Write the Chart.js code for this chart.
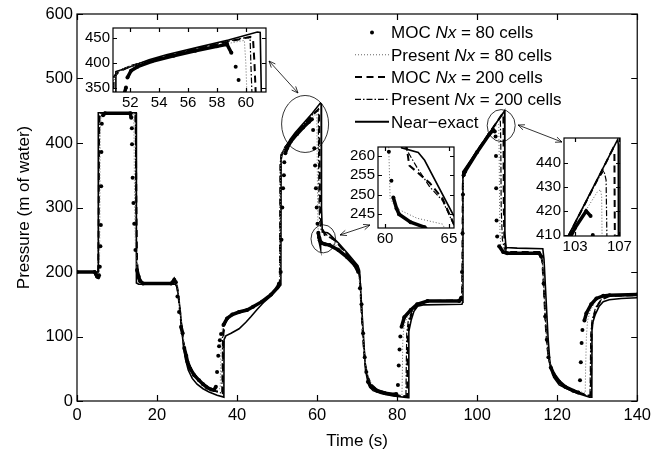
<!DOCTYPE html>
<html>
<head>
<meta charset="utf-8">
<script src="https://cdn.jsdelivr.net/npm/chart.js@4.4.1/dist/chart.umd.min.js"></script>
<style>
    body { margin: 0; background: #fff; }
    #wrap { position: relative; width: 656px; height: 459px; }
    #wrap canvas { position: absolute; }
</style>
</head>
<body>
<div id="wrap">
    <canvas id="grafico" width="656" height="459" style="left:0;top:0"></canvas>
    <canvas id="zoom1"></canvas>
    <canvas id="zoom2"></canvas>
    <canvas id="zoom3"></canvas>
</div>
<script>
// time (s) / pressure (m of water) pairs for each run
const moc80 = [[0,200],[4.4,200],[4.7,197],[5.0,193],[5.3,192],[5.5,195],[5.7,208],[5.85,240],[5.96,273],[6.05,333],[6.1,386],[6.2,430],[6.5,443],[7,446],
    [13.3,446],[13.55,439],[13.7,423],[13.75,398],[13.9,346],[14.1,307],[14.3,275],[14.6,234],[15.0,203],[15.4,193],[15.8,186],[16.5,182],
    [23.5,182],[24.0,185],[24.3,188],[24.7,184],[25.1,162],[25.5,138],[26.0,115],[26.4,105],[26.8,82],[27.3,70],[27.6,61],[28.3,50],[29.3,40],
    [30.5,32],[31.5,26],[32.5,21],[33.5,18],[34.2,17],[34.7,22],[35.0,45],[35.3,70],[35.5,85],[35.7,94],[36.0,104],[36.6,118],[37.5,128],
    [38.8,134],[40.5,138],[42.5,141],[44,146],[46.2,154],[48.5,165],[50.1,176],[50.5,182],[50.9,200],[51.1,250],[51.3,300],[51.5,330],
    [51.7,350],[51.8,370],[52.05,384],[52.5,392],[53.5,403],[55,414],[56.5,424],[58,433],[58.7,437],[59.0,420],[59.3,392],[59.5,365],
    [59.7,330],[59.9,300],[60.1,275],[60.3,261],[60.5,253.6],[60.65,249.3],[60.9,246.5],[61.1,245],[62,243],[63.1,241.7],[65.3,234],
    [67.5,223],[69.4,211],[70.3,200],[70.7,175],[71.1,150],[71.5,105],[71.9,68],[72.3,45],[72.7,30],[73.5,22],[75,16],[77,12],[79.3,10],
    [79.8,11],[80.2,25],[80.4,55],[80.6,80],[80.8,100],[81.1,115],[81.8,130],[83.4,141],[85,150],[87.6,155],[95.5,155],[96.0,160],
    [96.2,200],[96.35,260],[96.45,320],[96.6,350],[97,356],[100,386],[103,413],[104,420],[104.4,418],[104.6,410],[104.7,380],
    [104.75,330],[104.85,280],[105.0,255],[105.5,240],[106.5,231],[107.5,229],[115.5,229],[116.0,224],[116.6,182],[117.0,131],[117.4,95],
    [117.8,68],[118.4,52],[119.1,42],[120.5,30],[122,22],[124,16],[125.3,13],[125.7,32],[125.9,60],[126.1,90],[126.3,110],[126.8,125],
    [127.3,136],[128.5,150],[129.8,159],[131.5,163],[133.1,164],[140,165]];

const present80 = [[0,200],[4.6,200],[5.0,196],[5.4,195],[5.6,200],[5.7,260],[5.75,350],[5.8,420],[6.0,440],[6.5,446],[14.0,446],[14.2,440],
    [14.3,380],[14.4,300],[14.6,240],[15.0,200],[15.5,188],[16.5,182],[24.0,183],[24.5,186],[25.0,182],[25.4,163],[25.8,140],[26.3,112],
    [26.8,88],[27.4,70],[28.0,57],[29,45],[30.5,33],[32,24],[33.5,18],[34.8,15],[35.8,20],[35.9,60],[36.0,95],[36.3,112],[36.8,124],
    [37.5,129],[38.8,134],[40.5,138],[42.5,141],[44,146],[46.2,154],[48.5,165],[50.4,178],[50.7,190],[50.8,300],[50.9,370],[51.2,384],
    [52,393],[53.5,404],[55,415],[56.5,425],[58,434],[59.5,443],[59.9,445],[60.0,400],[60.1,320],[60.2,280],[60.3,261],[60.4,249],
    [60.9,246.5],[62.5,244],[64.5,242.5],[66,233],[68,220],[70.2,205],[70.8,170],[71.3,120],[71.8,75],[72.3,48],[73,32],[74.5,20],
    [76.5,14],[79,11],[81.2,9],[81.3,40],[81.4,90],[81.6,110],[82,122],[83.4,141],[85,150],[87.6,155],[96.2,156],[96.4,200],[96.5,300],
    [96.6,350],[97,357],[100,386],[103,413],[105,428],[105.3,429],[105.4,426],[105.5,380],[105.6,300],[105.7,260],[105.9,242],[106.5,234],
    [107.5,230],[115.8,230],[116.3,215],[116.8,160],[117.2,115],[117.6,80],[118.2,58],[119,44],[120.5,31],[122,23],[124,17],[126.5,13],
    [127.0,12],[127.1,50],[127.3,100],[127.6,125],[128.3,140],[129.8,158],[131.5,163],[133.1,164],[140,165]];

const moc200 = [[0,200],[5.1,200],[5.3,198],[5.4,250],[5.5,400],[5.6,440],[5.9,446],[14.6,446],[14.7,420],[14.85,300],[15.0,220],[15.3,190],
    [15.8,182],[24.3,183],[24.6,184],[25.0,178],[25.4,160],[25.8,135],[26.2,112],[26.7,88],[27.3,70],[27.9,57],[28.8,46],[30,36],[31.5,27],
    [33,20],[34.8,15],[36.4,12],[36.5,60],[36.6,105],[37,120],[37.8,130],[38.8,134],[40.5,138],[42.5,141],[44,146],[46.2,154],[48.5,165],
    [50.4,177],[50.7,185],[50.8,300],[50.85,370],[51.2,382],[52,393],[53.5,405],[55,417],[56.5,427],[58,437],[59.5,447],[60.3,452],
    [60.5,448],[60.6,400],[60.7,330],[60.8,290],[61.2,268],[61.7,262],[61.9,257.5],[63.5,253],[64.5,249],[66,238],[68,224],[70.2,208],
    [70.7,190],[71.1,140],[71.5,95],[72,58],[72.6,38],[73.5,26],[75,17],[77.5,12],[80,9],[82.5,7],[82.6,60],[82.7,105],[83.1,125],
    [83.8,138],[85,148],[87.6,155],[96.2,156],[96.3,200],[96.4,330],[96.5,355],[97,358],[100,388],[103,415],[105,433],[106.4,446],
    [106.55,444],[106.6,400],[106.65,300],[106.8,250],[107.2,236],[108,231],[115.8,231],[116.3,215],[116.7,170],[117.1,120],[117.5,85],[118,62],
    [118.8,46],[120.5,30],[122,22],[124.5,15],[127,10],[128.4,8],[128.5,60],[128.6,105],[128.9,125],[129.8,145],[131,157],[133.1,163],[140,164]];

const present200 = [[0,200],[5.1,200],[5.3,199],[5.4,300],[5.5,420],[5.7,444],[6,446],[14.5,446],[14.6,430],[14.75,300],[14.9,220],
    [15.2,192],[15.8,182],[24.3,182],[24.6,184],[25.0,179],[25.4,161],[25.8,137],[26.2,113],[26.7,89],[27.3,71],[27.9,58],[28.8,47],
    [30,36],[31.5,27],[33,20],[34.8,15],[36.2,12],[36.3,60],[36.4,105],[36.8,120],[37.6,130],[38.8,134],[40.5,138],[42.5,141],[44,146],
    [46.2,154],[48.5,165],[50.4,177],[50.65,185],[50.75,300],[50.8,370],[51.1,382],[52,394],[53.5,406],[55,418],[56.5,428],[58,438],
    [59.5,448],[60.1,451],[60.3,448],[60.35,400],[60.45,320],[60.6,280],[61,266],[61.6,262],[62.5,257],[63.5,252],[64.5,248.5],[66,238],
    [68,224],[70.2,207],[70.7,190],[71.1,140],[71.5,95],[72,58],[72.6,38],[73.5,26],[75,17],[77.5,12],[80,9],[82.2,7],[82.3,60],
    [82.4,105],[82.8,125],[83.6,138],[85,148],[87.6,155],[96.2,156],[96.3,200],[96.4,330],[96.5,355],[97,358],[100,388],[103,415],
    [105,433],[105.6,437],[105.8,433],[105.9,400],[106.0,300],[106.3,250],[106.8,236],[107.6,230],[115.8,230],[116.3,215],[116.7,170],
    [117.1,120],[117.5,85],[118,62],[118.8,46],[120.5,30],[122,22],[124.5,15],[127,10],[128.2,8],[128.3,60],[128.4,105],[128.7,125],
    [129.6,145],[131,157],[133.1,163],[140,164]];

const nearExact = [[0,200],[5.3,200],[5.32,447],[14.8,447],[14.85,183],[15.4,181],[24.6,181],[25.0,176],[25.3,165],[25.8,140],[26.2,110],
    [26.6,85],[27.1,65],[27.8,48],[28.8,35],[30,26],[31.5,19],[33,14],[35,9],[36.7,6],[36.75,95],[37.2,101],[38.5,105],[40.5,112],
    [42.2,122],[43.5,131],[45,142],[46.5,152],[48.5,163],[50.6,177],[50.95,180],[51.0,382],[51.3,385],[52.2,394],[53.3,406],[54.5,416],
    [56.8,432],[58.8,446],[60.8,462],[61.0,461],[61.1,300],[61.3,262],[62.6,260.8],[63.1,258.8],[65.4,244.5],[67.5,230],[70.2,210],
    [70.6,203],[71.0,160],[71.5,110],[72.1,48],[72.6,32],[73.1,22],[74,16],[76,11.5],[79,8],[82.8,5],[82.9,6],[82.95,108],[83.5,125],
    [84.2,139],[85.1,147],[86.5,149],[96.2,150],[96.35,153],[96.45,356],[106.85,450],[106.9,448],[106.95,260],[107.2,238],[110,237],
    [116.4,236],[116.7,220],[117.2,160],[117.7,100],[118.2,58],[119.1,37],[120.5,25],[122.4,19],[125,12],[128.1,6],[128.65,6],
    [128.7,118],[129.5,134],[130.5,147],[131.5,154],[133,157],[136,159],[140,160]];

const legendLabels = [
    ["MOC ", "Nx", " = 80 cells"],
    ["Present ", "Nx", " = 80 cells"],
    ["MOC ", "Nx", " = 200 cells"],
    ["Present ", "Nx", " = 200 cells"],
    ["Near\u2212exact", "", ""]
];

// axis ticks: main plot and the three zoomed windows
const timeTicks = [0, 20, 40, 60, 80, 100, 120, 140];
const pressureTicks = [0, 100, 200, 300, 400, 500, 600];
const zoom1Range = { t: [50.8, 61.4], p: [341, 470] };
const zoom1Ticks = { t: [52, 54, 56, 58, 60], p: [350, 400, 450] };
const zoom2Range = { t: [59.45, 65.4], p: [241.5, 262.2] };
const zoom2Ticks = { t: [60, 65], p: [245, 250, 255, 260] };
const zoom3Range = { t: [102, 107.06], p: [409.6, 450.6] };
const zoom3Ticks = { t: [103, 107], p: [410, 420, 430, 440] };

// ellipses on the main plot (centre in data units, radii in px) and the arrows to the zoom boxes
const callouts = [
    { t: 57, p: 429.5, rx: 23.5, ry: 28.5, arrow: [298, 93, 269, 61] },
    { t: 61.55, p: 251.4, rx: 12.3, ry: 14, arrow: [340, 235, 370, 225] },
    { t: 106, p: 427, rx: 14, ry: 16, arrow: [518, 125, 562, 142] }
];

Chart.defaults.font.family = "'Liberation Sans', Arial, sans-serif";
Chart.defaults.color = "#000";

function steep(ctx) {
    return Math.abs(ctx.p1.y - ctx.p0.y) > 2.5 * Math.abs(ctx.p1.x - ctx.p0.x) + 3;
}

function montarDatasets() {
    const pts = arr => arr.map(([t, p]) => ({ x: t, y: p }));
    return [
        {
            label: "MOC Nx = 80 cells", data: pts(moc80),
            borderColor: "#000", borderWidth: 3.5, pointRadius: 2, pointBackgroundColor: "#000", pointBorderWidth: 0,
            segment: { borderColor: ctx => steep(ctx) ? "rgba(0,0,0,0)" : "#000" }
        },
        {
            label: "Present Nx = 80 cells", data: pts(present80),
            borderColor: "#666", borderWidth: 1, borderDash: [1, 2], pointRadius: 0
        },
        {
            label: "MOC Nx = 200 cells", data: pts(moc200),
            borderColor: "#000", borderWidth: 2, borderDash: [7, 4.5], pointRadius: 0
        },
        {
            label: "Present Nx = 200 cells", data: pts(present200),
            borderColor: "#000", borderWidth: 1.2, borderDash: [6, 2, 1.5, 2], pointRadius: 0
        },
        {
            label: "Near-exact", data: pts(nearExact),
            borderColor: "#000", borderWidth: 1.6, pointRadius: 0
        }
    ].map(d => Object.assign({ tension: 0, fill: false, clip: 0 }, d));
}

// box round the plot with inward ticks on all four sides
const moldura = {
    id: "moldura",
    beforeDraw(chart, args, opts) {
        if (!opts.fundo) return;
        const a = chart.chartArea;
        chart.ctx.save();
        chart.ctx.fillStyle = "#fff";
        chart.ctx.fillRect(a.left, a.top, a.right - a.left, a.bottom - a.top);
        chart.ctx.restore();
    },
    afterDatasetsDraw(chart, args, opts) {
        const { ctx, chartArea: a, scales: { x, y } } = chart;
        const tl = opts.tick;
        ctx.save();
        ctx.strokeStyle = "#000";
        ctx.lineWidth = opts.largura;
        ctx.beginPath();
        x.ticks.forEach(t => {
            const px = Math.round(x.getPixelForValue(t.value)) + 0.5;
            ctx.moveTo(px, a.bottom); ctx.lineTo(px, a.bottom - tl);
            ctx.moveTo(px, a.top); ctx.lineTo(px, a.top + tl);
        });
        y.ticks.forEach(t => {
            const py = Math.round(y.getPixelForValue(t.value)) + 0.5;
            ctx.moveTo(a.left, py); ctx.lineTo(a.left + tl, py);
            ctx.moveTo(a.right, py); ctx.lineTo(a.right - tl, py);
        });
        ctx.stroke();
        ctx.strokeRect(a.left, a.top, a.right - a.left, a.bottom - a.top);
        ctx.restore();
    }
};

function seta(ctx, x0, y0, x1, y1) {
    const ang = Math.atan2(y1 - y0, x1 - x0);
    ctx.beginPath();
    ctx.moveTo(x0, y0); ctx.lineTo(x1, y1);
    ctx.stroke();
    [[x0, y0, ang + Math.PI], [x1, y1, ang]].forEach(([px, py, a]) => {
        ctx.beginPath();
        ctx.moveTo(px, py);
        ctx.lineTo(px - 7 * Math.cos(a - 0.4), py - 7 * Math.sin(a - 0.4));
        ctx.moveTo(px, py);
        ctx.lineTo(px - 7 * Math.cos(a + 0.4), py - 7 * Math.sin(a + 0.4));
        ctx.stroke();
    });
}

// ellipses, arrows and the legend drawn inside the axes
const anotacoes = {
    id: "anotacoes",
    afterDraw(chart) {
        const { ctx, scales: { x, y } } = chart;
        ctx.save();
        ctx.strokeStyle = "#000";
        ctx.lineWidth = 0.8;
        callouts.forEach(c => {
            ctx.beginPath();
            ctx.ellipse(x.getPixelForValue(c.t), y.getPixelForValue(c.p), c.rx, c.ry, 0, 0, 2 * Math.PI);
            ctx.stroke();
            seta(ctx, ...c.arrow);
        });

        const x0 = 355, x1 = 389, yTop = 38.4, passo = 22.35;
        chart.data.datasets.forEach((d, i) => {
            const yy = yTop + i * passo;
            const ym = yy - 6;
            ctx.save();
            if (i === 0) {
                ctx.fillStyle = "#000";
                ctx.beginPath();
                ctx.arc((x0 + x1) / 2, ym, 2, 0, 2 * Math.PI);
                ctx.fill();
            } else {
                ctx.strokeStyle = d.borderColor;
                ctx.lineWidth = i === 4 ? 2 : d.borderWidth;
                ctx.setLineDash(d.borderDash || []);
                ctx.beginPath();
                ctx.moveTo(x0, ym); ctx.lineTo(x1, ym);
                ctx.stroke();
            }
            ctx.restore();

            let tx = x1 + 2;
            ctx.fillStyle = "#000";
            ctx.textBaseline = "alphabetic";
            legendLabels[i].forEach((parte, k) => {
                ctx.font = (k === 1 ? "italic " : "") + "17px 'Liberation Sans', Arial, sans-serif";
                ctx.fillText(parte, tx, yy);
                tx += ctx.measureText(parte).width;
            });
        });
        ctx.restore();
    }
};

function eixo(min, max, ticks, fonte, pad, tamanho, extra) {
    return Object.assign({
        type: "linear", min: min, max: max,
        grid: { display: false, drawTicks: false },
        border: { display: false },
        ticks: { font: { size: fonte }, color: "#000", padding: pad, maxRotation: 0, autoSkip: false },
        afterBuildTicks: s => { s.ticks = ticks.map(v => ({ value: v })); },
        afterFit: s => { if (s.isHorizontal()) s.height = tamanho; else s.width = tamanho; }
    }, extra || {});
}

function criarGrafico() {
    const ctx = document.getElementById("grafico");
    new Chart(ctx, {
        type: "line",
        data: { datasets: montarDatasets() },
        options: {
            responsive: false,
            animation: false,
            events: [],
            layout: { padding: { top: 14, right: 16, left: 0, bottom: 0 } },
            plugins: {
                legend: { display: false },
                tooltip: { enabled: false },
                moldura: { tick: 6, largura: 1.2, fundo: false }
            },
            scales: {
                x: eixo(0, 140, timeTicks, 16.5, 5, 58, {
                    title: { display: true, text: "Time (s)", font: { size: 17 }, color: "#000", padding: { top: 0, bottom: 7 } }
                }),
                y: eixo(0, 600, pressureTicks, 16.5, 4, 77, {
                    title: { display: true, text: "Pressure (m of water)", font: { size: 17 }, color: "#000", padding: { top: 14, bottom: 0 } }
                })
            }
        },
        plugins: [moldura, anotacoes]
    });
}

// small zoomed window; box = [left, top, width, height] of its plot area on the page
function criarZoom(id, box, range, ticks) {
    const el = document.getElementById(id);
    el.style.left = (box[0] - 40) + "px";
    el.style.top = (box[1] - 8) + "px";
    el.width = box[2] + 48;
    el.height = box[3] + 34;
    new Chart(el, {
        type: "line",
        data: { datasets: montarDatasets() },
        options: {
            responsive: false,
            animation: false,
            events: [],
            layout: { padding: { top: 8, right: 8, left: 0, bottom: 0 } },
            plugins: {
                legend: { display: false },
                tooltip: { enabled: false },
                moldura: { tick: 4, largura: 1.2, fundo: true }
            },
            scales: {
                x: eixo(range.t[0], range.t[1], ticks.t, 15, 2, 26),
                y: eixo(range.p[0], range.p[1], ticks.p, 15, 3, 40)
            }
        },
        plugins: [moldura]
    });
}

criarGrafico();
criarZoom("zoom1", [113, 24, 153, 68], zoom1Range, zoom1Ticks);
criarZoom("zoom2", [378, 143, 76, 85], zoom2Range, zoom2Ticks);
criarZoom("zoom3", [564, 134, 62, 102], zoom3Range, zoom3Ticks);
</script>
</body>
</html>
